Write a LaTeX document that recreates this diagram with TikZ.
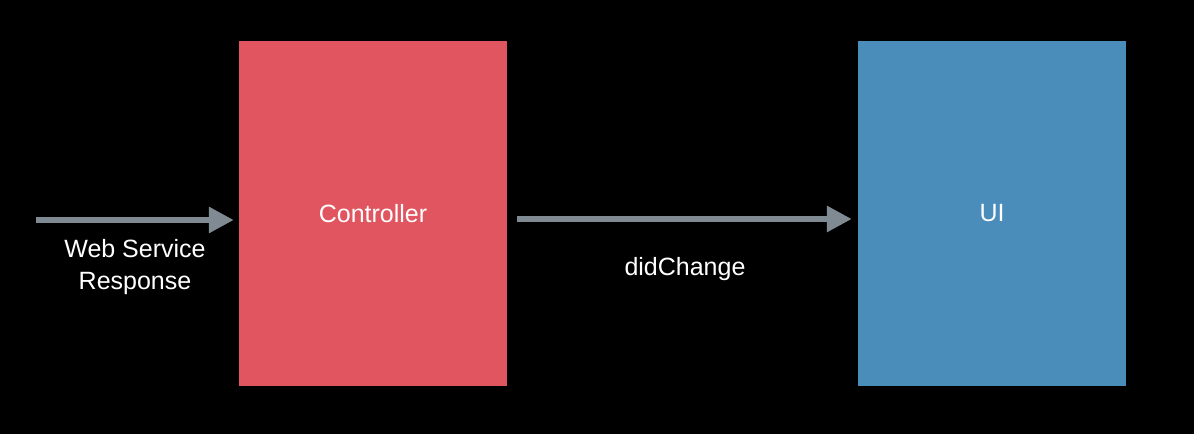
\documentclass[tikz,border=0pt]{standalone}
\usepackage{fontspec}
\setmainfont{Liberation Sans}
\usetikzlibrary{arrows.meta}
\definecolor{ctrlred}{HTML}{E0555F}
\definecolor{uiblue}{HTML}{4A8CBA}
\definecolor{arrowgray}{HTML}{7F8A92}
\begin{document}
\begin{tikzpicture}[x=1pt,y=-1pt,
  box/.style={draw=none,minimum width=268pt,minimum height=345pt,inner sep=0pt,text=white,font=\fontsize{25}{28}\selectfont},
  lbl/.style={text=white,font=\fontsize{25}{32}\selectfont,align=center,inner sep=0pt},
  flow/.style={arrowgray,line width=6pt,-{Triangle[length=25pt,width=25pt]}}]
\fill[black] (0,0) rectangle (1194,434);
\useasboundingbox (0,0) rectangle (1194,434);
\node[box,fill=ctrlred] (ctrl) at (373,213.5) {\raisebox{-1.5pt}{Controller}};
\node[box,fill=uiblue] (ui) at (992,213.5) {\raisebox{-1.5pt}{UI}};
\coordinate (start) at (36,220);
\draw[flow] (start) -- ([xshift=-5pt,yshift=-6.5pt]ctrl.west);
\draw[flow] ([xshift=10pt,yshift=-5.5pt]ctrl.east) -- ([xshift=-6pt,yshift=-5.5pt]ui.west);
\node[lbl] (wsr) at (135,267) {Web Service\\Response};
\node[lbl] (dc) at (685,269) {didChange};
\end{tikzpicture}
\end{document}
